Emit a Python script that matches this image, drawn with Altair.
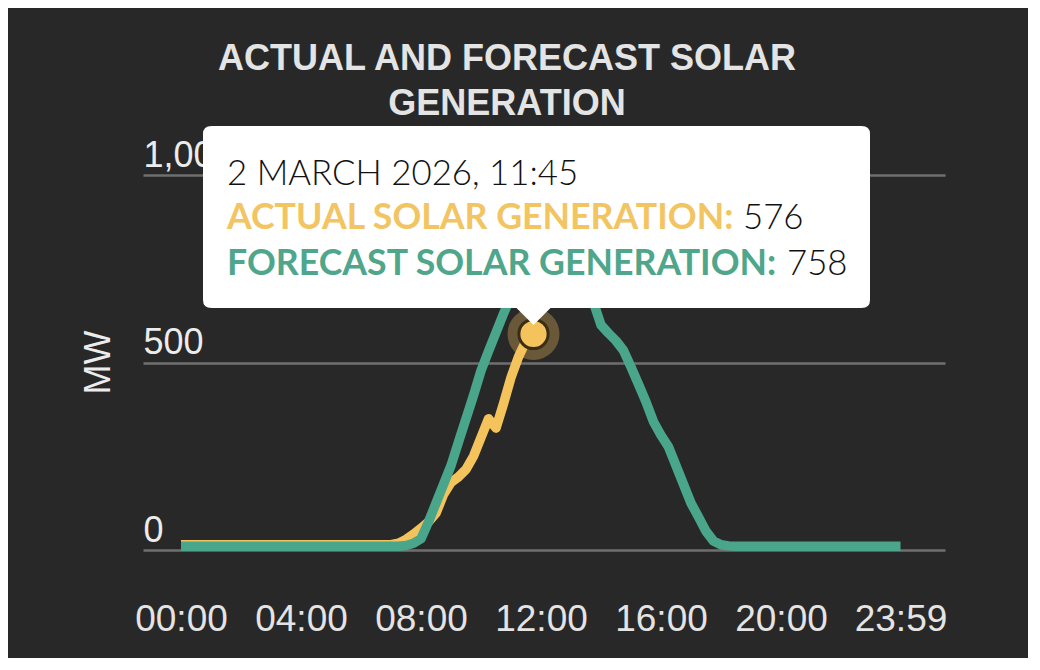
import altair as alt
import pandas as pd

# ---------------- data ----------------
title_lines = ["ACTUAL AND FORECAST SOLAR", "GENERATION"]
y_title = "MW"
tooltip_date = "2 MARCH 2026, 11:45"
actual_label = "ACTUAL SOLAR GENERATION:"
forecast_label = "FORECAST SOLAR GENERATION:"

# time stamps every 15 minutes from 00:00, plus the end of day
times = [f"{h:02d}:{m:02d}" for h in range(24) for m in (0, 15, 30, 45)] + ["23:59"]

# actual solar generation (MW), 00:00 .. 11:45
actual_mw = [
    14, 14, 14, 14, 14, 14, 14, 14, 14, 14, 14, 14,   # 00:00-02:45
    14, 14, 14, 14, 14, 14, 14, 14, 14, 14, 14, 14,   # 03:00-05:45
    14, 14, 14, 14,                                   # 06:00-06:45
    14, 18, 28, 42, 58, 75, 98, 148, 180, 195,        # 07:00-09:15
    215, 250, 300, 350, 325, 390, 460, 515, 558, 576  # 09:30-11:45
]

# forecast solar generation (MW), 00:00 .. 23:59
forecast_mw = [
    10, 10, 10, 10, 10, 10, 10, 10, 10, 10, 10, 10,   # 00:00-02:45
    10, 10, 10, 10, 10, 10, 10, 10, 10, 10, 10, 10,   # 03:00-05:45
    10, 10, 10, 10,                                   # 06:00-06:45
    10, 10, 12, 18, 30, 75, 125, 175, 225, 288,       # 07:00-09:15
    350, 412, 478, 530, 580, 630, 675, 712, 740, 758, # 09:30-11:45
    772, 780, 782, 778, 765, 740, 705, 660, 600, 578, # 12:00-14:15
    558, 532, 488, 442, 395, 342, 306, 275, 225, 175, # 14:30-16:45
    125, 88, 50, 24, 14, 11, 10, 10, 10, 10,          # 17:00-19:15
    10, 10, 10, 10, 10, 10, 10, 10, 10, 10, 10, 10,   # 19:30-22:15
    10, 10, 10, 10, 10, 10, 10                        # 22:30-23:59
]

x_tick_labels = ["00:00", "04:00", "08:00", "12:00", "16:00", "20:00", "23:59"]
y_tick_values = [0, 500, 1000]


def to_hours(t):
    h, m = t.split(":")
    return int(h) + int(m) / 60.0


x_tick_values = [to_hours(t) for t in x_tick_labels]

actual_df = pd.DataFrame({"t": times[:len(actual_mw)], "v": actual_mw})
actual_df["h"] = actual_df["t"].map(to_hours)
forecast_df = pd.DataFrame({"t": times[:len(forecast_mw)], "v": forecast_mw})
forecast_df["h"] = forecast_df["t"].map(to_hours)

hi = len(actual_mw) - 1
hover_df = pd.DataFrame({
    "h": [to_hours(times[hi])],
    "v": [actual_mw[hi]],
    "a": [actual_mw[hi]],
    "f": [forecast_mw[hi]],
})

# ---------------- styles ----------------
BG = "#282828"
YELLOW = "#F5C35C"
GREEN = "#4AA68B"
GRID = "#6f6f6f"
TXT = "#ececec"

W, H = 802, 375
x_scale = alt.Scale(domain=[-1.2667, 25.4667], nice=False, zero=False)
y_scale = alt.Scale(domain=[0, 1000], nice=False)

label_expr = "[" + ",".join(f"'{l}'" for l in x_tick_labels) + "][indexof([" + \
    ",".join(repr(v) for v in x_tick_values) + "], datum.value)]"

x_axis = alt.Axis(
    values=x_tick_values, labelExpr=label_expr, grid=False, domain=False,
    ticks=False, tickSize=0, labelFont="Liberation Sans", labelFontSize=37,
    labelColor="#e4e4e4", labelPadding=80, labelBaseline="alphabetic",
    labelFlush=False, labelOverlap=False, title=None,
)
y_axis = alt.Axis(
    values=y_tick_values, format=",.0f", grid=True, gridColor=GRID, gridWidth=2.5,
    gridOpacity=1, domain=False, ticks=False, tickSize=0,
    labelAlign="left", labelBaseline="alphabetic", labelPadding=0, labelOffset=-9,
    labelFont="Liberation Sans", labelFontSize=36, labelColor=TXT,
    labelFlush=False, labelOverlap=False,
    title=y_title, titleFont="Liberation Sans", titleFontSize=36,
    titleFontWeight="normal", titleColor=TXT, titleX=-45, titleY=187,
    titleAngle=-90, titleBaseline="middle", titleAlign="center",
)

X = alt.X("h:Q", scale=x_scale, axis=x_axis)
Y = alt.Y("v:Q", scale=y_scale, axis=y_axis)

halo = alt.Chart(hover_df).mark_circle(
    size=2700, color="#695939", opacity=1
).encode(x=X, y=Y)

actual_line = alt.Chart(actual_df).mark_line(
    color=YELLOW, strokeWidth=9.5, strokeJoin="round", strokeCap="butt"
).encode(x=X, y=Y, order="h:Q")

forecast_line = alt.Chart(forecast_df).mark_line(
    color=GREEN, strokeWidth=9.5, strokeJoin="round", strokeCap="butt"
).encode(x=X, y=Y, order="h:Q")

point = alt.Chart(hover_df).mark_circle(
    size=855, color=YELLOW, opacity=1, stroke="#3a2d14", strokeWidth=3
).encode(x=X, y=Y)

box_path = ("M-322,-208 L328,-208 Q336.5,-208 336.5,-200 L336.5,-34 "
            "Q336.5,-26 328,-26 L17,-26 L0,-9 L-17,-26 L-322,-26 "
            "Q-330.5,-26 -330.5,-34 L-330.5,-200 Q-330.5,-208 -322,-208 Z")
box = alt.Chart(hover_df).mark_point(
    shape=box_path, size=4, filled=True, fill="white", opacity=1, strokeWidth=0
).encode(x=X, y=Y)

light = dict(align="left", baseline="alphabetic", font="Lato", fontSize=34.8,
             fontWeight=300, color="#111111")
bold = dict(align="left", baseline="alphabetic", font="Lato", fontSize=35.7,
            fontWeight="bold")
t_date = alt.Chart(hover_df).mark_text(
    text=tooltip_date, dx=-306.5, dy=-149, **light
).encode(x=X, y=Y)
t_alab = alt.Chart(hover_df).mark_text(
    text=actual_label, dx=-306.5, dy=-105, color="#F2C462", **bold
).encode(x=X, y=Y)
t_aval = alt.Chart(hover_df).mark_text(
    dx=209.5, dy=-105, **light
).encode(x=X, y=Y, text=alt.Text("a:Q", format="d"))
t_flab = alt.Chart(hover_df).mark_text(
    text=forecast_label, dx=-306.5, dy=-59, color="#4FA68B", **bold
).encode(x=X, y=Y)
t_fval = alt.Chart(hover_df).mark_text(
    dx=253.5, dy=-59, **light
).encode(x=X, y=Y, text=alt.Text("f:Q", format="d"))

chart = alt.layer(
    halo, actual_line, forecast_line, point, box, t_date, t_alab, t_aval, t_flab, t_fval
).properties(
    width=W, height=H,
    title=alt.TitleParams(
        text=title_lines, font="Liberation Sans", fontSize=36, fontWeight="bold",
        color="#e4e4e4", anchor="middle", frame="group", dx=-37, lineHeight=45,
        offset=3,
    ),
    autosize=alt.AutoSizeParams(type="none"),
    padding={"left": 135, "top": 167, "right": 83, "bottom": 108},
    background=BG,
).configure_view(stroke=None)

chart.save("out.html", embed_options={"renderer": "svg", "actions": False})
